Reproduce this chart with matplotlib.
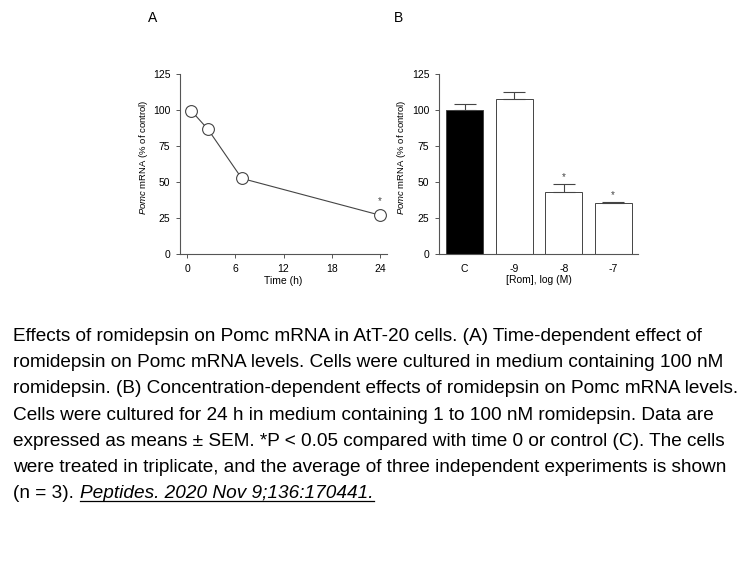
import matplotlib
matplotlib.use('Agg')
import matplotlib.pyplot as plt
from matplotlib.lines import Line2D

plt.rcParams['font.family'] = ['Liberation Sans', 'DejaVu Sans']
plt.rcParams['mathtext.fontset'] = 'custom'
plt.rcParams['mathtext.rm'] = 'Liberation Sans'
plt.rcParams['mathtext.it'] = 'Liberation Sans:italic'

# panel A data: time course
time_h = [0.5, 2.6, 6.8, 24]
pomc_time = [99.5, 86.5, 52.5, 27]
pomc_time_err = [2.5, 2.0, 1.5, 1.5]

# panel B data: concentration
conc_labels = ['C', '-9', '-8', '-7']
pomc_conc = [100, 107.5, 43, 35.5]
pomc_conc_err = [4.2, 5.0, 5.5, 0.5]
conc_colors = ['black', 'white', 'white', 'white']
sig_conc = [False, False, True, True]

caption_lines = [
    "Effects of romidepsin on Pomc mRNA in AtT-20 cells. (A) Time-dependent effect of",
    "romidepsin on Pomc mRNA levels. Cells were cultured in medium containing 100 nM",
    "romidepsin. (B) Concentration-dependent effects of romidepsin on Pomc mRNA levels.",
    "Cells were cultured for 24 h in medium containing 1 to 100 nM romidepsin. Data are",
    "expressed as means \u00b1 SEM. *P < 0.05 compared with time 0 or control (C). The cells",
    "were treated in triplicate, and the average of three independent experiments is shown",
]
last_line = "(n = 3). "
citation = "Peptides. 2020 Nov 9;136:170441."

W, H = 756, 567
fig = plt.figure(figsize=(W / 100, H / 100), dpi=100)

ylab = r'$\it{Pomc}$ mRNA (% of control)'
tick_fs = 7.5
lab_fs = 6.8
grey = '#555555'


def style_axes(ax, lx):
    for s in ['top', 'right']:
        ax.spines[s].set_visible(False)
    for s in ['left', 'bottom']:
        ax.spines[s].set_color(grey)
        ax.spines[s].set_linewidth(0.8)
    ax.set_ylim(0, 125)
    ax.set_yticks([0, 25, 50, 75, 100, 125])
    ax.tick_params(axis='both', labelsize=tick_fs, length=3, width=0.7, color=grey, pad=4)
    ax.set_ylabel(ylab, fontsize=lab_fs)
    ax.yaxis.set_label_coords(lx, 0.535)


# --- panel A ---
axA = fig.add_axes([180 / W, 1 - 254 / H, 207 / W, 180 / H])
style_axes(axA, -0.145)
axA.errorbar(time_h, pomc_time, yerr=pomc_time_err, color='#444444', lw=0.8,
             elinewidth=0.7, capsize=2, marker='o', ms=8.5, mfc='white',
             mec='#444444', mew=0.8, zorder=3)
axA.text(time_h[-1], pomc_time[-1] + 6, '*', ha='center', va='bottom', fontsize=7, color='#444444')
axA.set_xlim(-0.9, 24.9)
axA.set_xticks([0, 6, 12, 18, 24])
axA.set_xlabel('Time (h)', fontsize=tick_fs, labelpad=2)
fig.text(153 / W, 1 - 18 / H, 'A', fontsize=10, ha='center', va='center')

# --- panel B ---
axB = fig.add_axes([439 / W, 1 - 254 / H, 199 / W, 180 / H])
style_axes(axB, -0.156)
xpos = list(range(len(conc_labels)))
axB.bar(xpos, pomc_conc, width=0.74, color=conc_colors, edgecolor='#444444', linewidth=0.7)
axB.errorbar(xpos, pomc_conc, yerr=[[0] * 4, pomc_conc_err], fmt='none',
             ecolor='#444444', elinewidth=0.8, capsize=8, capthick=0.8)
for x, v, e, s in zip(xpos, pomc_conc, pomc_conc_err, sig_conc):
    if s:
        axB.text(x, v + e + 1.5, '*', ha='center', va='bottom', fontsize=7, color='#444444')
axB.set_xlim(-0.52, 3.5)
axB.set_xticks(xpos)
axB.set_xticklabels(conc_labels)
axB.tick_params(axis='x', length=0, pad=7)
axB.set_xlabel('[Rom], log (M)', fontsize=tick_fs, labelpad=1)
fig.text(398 / W, 1 - 18 / H, 'B', fontsize=10, ha='center', va='center')

# --- caption ---
cap_fs = 13.7
x0 = 13 / W
y_base = 341
step = 26.2
for i, line in enumerate(caption_lines):
    fig.text(x0, 1 - (y_base + i * step) / H, line, fontsize=cap_fs, ha='left', va='baseline')
yl = 1 - (y_base + len(caption_lines) * step) / H
t1 = fig.text(x0, yl, last_line, fontsize=cap_fs, ha='left', va='baseline')
fig.canvas.draw()
r = fig.canvas.get_renderer()
bb = t1.get_window_extent(r)
x_cit = bb.x1 / W + 1 / W
t2 = fig.text(x_cit, yl, citation, fontsize=cap_fs, style='italic', ha='left', va='baseline')
fig.canvas.draw()
bb2 = t2.get_window_extent(r)
uy = yl - 2.5 / H
fig.add_artist(Line2D([bb2.x0 / W, bb2.x1 / W], [uy, uy], color='black', lw=0.9,
                      transform=fig.transFigure))

fig.savefig('out.png', dpi=100)
